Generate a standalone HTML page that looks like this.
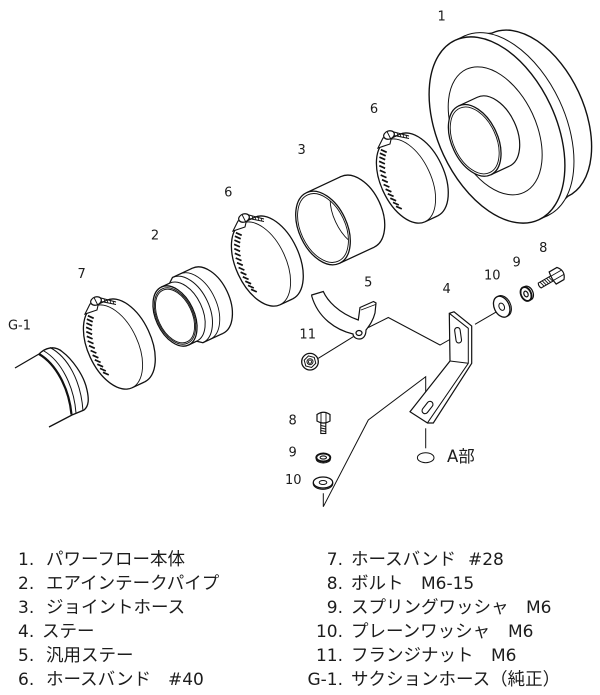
<!DOCTYPE html>
<html><head><meta charset="utf-8"><style>
html,body{margin:0;padding:0;background:#fff;}
svg{display:block}
.l{font-family:"DejaVu Sans","Liberation Sans",sans-serif;font-size:13px;fill:#1c1c1c}
.j{font-family:"Noto Sans CJK JP","Liberation Sans",sans-serif;font-size:17.5px;fill:#1c1c1c}
.n{font-family:"DejaVu Sans","Liberation Sans",sans-serif;font-size:17px;fill:#1c1c1c}
.a{font-family:"DejaVu Sans","Noto Sans CJK JP",sans-serif;font-size:16.5px;fill:#1c1c1c}
</style></head><body>
<svg width="600" height="695" viewBox="0 0 600 695" xmlns="http://www.w3.org/2000/svg">
<defs>
<clipPath id="c3"><ellipse cx="0" cy="0" rx="36.5" ry="22.3"/></clipPath>
</defs>
<rect width="600" height="695" fill="#fff"/>

<!-- PART 1 -->
<g transform="translate(497,130) rotate(65)" stroke="#111" fill="#fff">
 <ellipse cx="0" cy="-36" rx="90" ry="54" stroke-width="1.4"/>
 <path d="M-90,-36 L90,-36 L99,-10 L-99,-10 Z" stroke="none"/>
 <path d="M-90,-36 L-99,-10 M90,-36 L99,-10" fill="none" stroke-width="1.4"/>
 <ellipse cx="0" cy="-10" rx="99" ry="59" stroke-width="1"/>
 <path d="M-99,-10 L-99,0 M99,-10 L99,0" fill="none" stroke-width="1"/>
 <ellipse cx="0" cy="0" rx="99" ry="59" stroke-width="1.4"/>
 <ellipse cx="0" cy="2" rx="68" ry="41" fill="none" stroke-width="1"/>
 <path d="M-38,4 A38,23 0 0 1 38,4 L38,24.6 L-38,24.6 Z" stroke="none"/>
 <path d="M-38,24.6 L-38,4 A38,23 0 0 1 38,4 L38,24.6" fill="none" stroke-width="1.2"/>
 <ellipse cx="0" cy="24.6" rx="38" ry="23" stroke-width="1.3"/>
 <ellipse cx="0" cy="24.6" rx="35.5" ry="21.3" fill="none" stroke-width="0.9"/>
</g>

<!-- CLAMP 6 upper -->
<g transform="translate(406,181)" stroke="#111" fill="none">
 <g transform="rotate(65)">
  <path d="M-45,-14 A45,25 0 0 1 45,-14" stroke-width="1.3"/>
  <path d="M-45,0 L-45,-14 M45,0 L45,-14" stroke-width="1.3"/>
  <path d="M-45,0 A45,25 0 0 1 45,0" stroke-width="0.9"/>
  <path d="M-45,0 A45,25 0 0 0 45,0" stroke-width="1.3"/>
 </g>
 <path stroke-width="1.7" d="M-25.1,-31.3l5.8,2.6M-26.1,-27.8l5.8,2.6M-26.6,-23.9l5.8,2.6M-26.9,-19.7l5.8,2.6M-26.7,-15.3l5.8,2.6M-26.2,-10.7l5.8,2.6M-25.3,-6l5.8,2.6M-24,-1.3l5.8,2.6M-22.4,3.5l5.8,2.6M-20.4,8.2l5.8,2.6M-18.2,12.8l5.8,2.6M-15.7,17.2l5.8,2.6M-13,21.4l5.8,2.6M-10,25.3l5.8,2.6"/>
 <path d="M-12,-49 L3,-45 M-12,-45.5 L3,-42.5" stroke-width="1"/>
 <path d="M-9,-48.3l0.8,3M-6,-47.5l0.8,3M-3,-46.8l0.8,3M0,-46l0.8,3" stroke-width="0.8"/>
 <path d="M-28,-33 L-23,-43 L-14,-46 L-16,-37 Z" fill="#fff" stroke-width="1.1"/>
 <ellipse cx="-17" cy="-46" rx="5.5" ry="4" transform="rotate(-20 -17 -46)" fill="#fff" stroke-width="1.2"/>
 <path d="M-19,-49.5 L-15.5,-42.5" stroke-width="0.9"/>
</g>

<!-- PART 3 -->
<g transform="translate(323,228) rotate(65)" stroke="#111" fill="#fff">
 <ellipse cx="0" cy="-38" rx="39" ry="24" stroke-width="1.3"/>
 <rect x="-39" y="-38" width="78" height="38" stroke="none"/>
 <path d="M-39,-38 L-39,0 M39,-38 L39,0" stroke-width="1.3" fill="none"/>
 <ellipse cx="0" cy="0" rx="39" ry="24" stroke-width="1.3"/>
 <ellipse cx="0" cy="0" rx="36.5" ry="22.3" fill="none" stroke-width="0.9"/>
 <path d="M-39,-38 A39,24 0 0 0 39,-38" fill="none" stroke-width="0.9" clip-path="url(#c3)"/>
</g>

<!-- CLAMP 6 lower -->
<g transform="translate(261,264)" stroke="#111" fill="none">
 <g transform="rotate(65)">
  <path d="M-45,-14 A45,25 0 0 1 45,-14" stroke-width="1.3"/>
  <path d="M-45,0 L-45,-14 M45,0 L45,-14" stroke-width="1.3"/>
  <path d="M-45,0 A45,25 0 0 1 45,0" stroke-width="0.9"/>
  <path d="M-45,0 A45,25 0 0 0 45,0" stroke-width="1.3"/>
 </g>
 <path stroke-width="1.7" d="M-25.1,-31.3l5.8,2.6M-26.1,-27.8l5.8,2.6M-26.6,-23.9l5.8,2.6M-26.9,-19.7l5.8,2.6M-26.7,-15.3l5.8,2.6M-26.2,-10.7l5.8,2.6M-25.3,-6l5.8,2.6M-24,-1.3l5.8,2.6M-22.4,3.5l5.8,2.6M-20.4,8.2l5.8,2.6M-18.2,12.8l5.8,2.6M-15.7,17.2l5.8,2.6M-13,21.4l5.8,2.6M-10,25.3l5.8,2.6"/>
 <path d="M-12,-49 L3,-45 M-12,-45.5 L3,-42.5" stroke-width="1"/>
 <path d="M-9,-48.3l0.8,3M-6,-47.5l0.8,3M-3,-46.8l0.8,3M0,-46l0.8,3" stroke-width="0.8"/>
 <path d="M-28,-33 L-23,-43 L-14,-46 L-16,-37 Z" fill="#fff" stroke-width="1.1"/>
 <ellipse cx="-17" cy="-46" rx="5.5" ry="4" transform="rotate(-20 -17 -46)" fill="#fff" stroke-width="1.2"/>
 <path d="M-19,-49.5 L-15.5,-42.5" stroke-width="0.9"/>
</g>

<!-- PART 2 -->
<g transform="translate(175,316) rotate(65)" stroke="#111" fill="#fff">
 <ellipse cx="0" cy="-36" rx="36" ry="21.6" stroke-width="1.3"/>
 <path d="M-36,-36 L36,-36 L36,-14 L32,-9 L32,0 L-32,0 L-32,-9 L-36,-14 Z" stroke="none"/>
 <path d="M-36,-36 L-36,-14 L-32,-9 L-32,0 M36,-36 L36,-14 L32,-9 L32,0" fill="none" stroke-width="1.3"/>
 <path d="M-36,-22 A36,21.6 0 0 1 36,-22" fill="none" stroke-width="0.9"/>
 <path d="M-36,-14 A36,21.6 0 0 1 36,-14" fill="none" stroke-width="1"/>
 <path d="M-32,-9 A32,19.2 0 0 1 32,-9" fill="none" stroke-width="1"/>
 <ellipse cx="0" cy="0" rx="32" ry="19.2" stroke-width="1.3"/>
 <ellipse cx="0" cy="0" rx="30" ry="18" fill="none" stroke-width="0.9"/>
 <ellipse cx="0" cy="0" rx="28.5" ry="17" fill="none" stroke-width="0.9"/>
</g>

<!-- CLAMP 7 -->
<g transform="translate(113,347)" stroke="#111" fill="none">
 <g transform="rotate(65)">
  <path d="M-45,-14 A45,25 0 0 1 45,-14" stroke-width="1.3"/>
  <path d="M-45,0 L-45,-14 M45,0 L45,-14" stroke-width="1.3"/>
  <path d="M-45,0 A45,25 0 0 1 45,0" stroke-width="0.9"/>
  <path d="M-45,0 A45,25 0 0 0 45,0" stroke-width="1.3"/>
 </g>
 <path stroke-width="1.7" d="M-25.1,-31.3l5.8,2.6M-26.1,-27.8l5.8,2.6M-26.6,-23.9l5.8,2.6M-26.9,-19.7l5.8,2.6M-26.7,-15.3l5.8,2.6M-26.2,-10.7l5.8,2.6M-25.3,-6l5.8,2.6M-24,-1.3l5.8,2.6M-22.4,3.5l5.8,2.6M-20.4,8.2l5.8,2.6M-18.2,12.8l5.8,2.6M-15.7,17.2l5.8,2.6M-13,21.4l5.8,2.6M-10,25.3l5.8,2.6"/>
 <path d="M-12,-49 L3,-45 M-12,-45.5 L3,-42.5" stroke-width="1"/>
 <path d="M-9,-48.3l0.8,3M-6,-47.5l0.8,3M-3,-46.8l0.8,3M0,-46l0.8,3" stroke-width="0.8"/>
 <path d="M-28,-33 L-23,-43 L-14,-46 L-16,-37 Z" fill="#fff" stroke-width="1.1"/>
 <ellipse cx="-17" cy="-46" rx="5.5" ry="4" transform="rotate(-20 -17 -46)" fill="#fff" stroke-width="1.2"/>
 <path d="M-19,-49.5 L-15.5,-42.5" stroke-width="0.9"/>
</g>

<!-- G-1 -->
<g stroke="#111" fill="none">
 <path d="M15,368 L39,354 M49,427 L72,415" stroke-width="1.3"/>
 <path d="M39,354 C45,348 54,345 62,351.5 C72,359 84,375 87,390 C89,399 89,406 84,410 L72,415" stroke-width="1.3"/>
 <path d="M39,354 C56,364 69,388 71.5,414.5" stroke-width="2.2"/>
 <path d="M44,351 C61,361 74,386 76,413" stroke-width="1"/>
 <path d="M50,347.5 C68,357 81,381 83,411" stroke-width="1"/>
</g>

<!-- leaders -->
<g stroke="#111" fill="none" stroke-width="1">
 <path d="M318.3,358.3 L353.3,336.7"/>
 <path d="M368.3,327.5 L388.3,317.5 L440,345 L456,336"/>
 <path d="M475,324.3 L496.7,311.7"/>
 <path d="M323.3,493.3 L323.3,506.7 L368.3,420 L425.7,376.7 L425.7,411.7"/>
 <path d="M425.7,428.3 L425.7,448.3"/>
 <ellipse cx="425.7" cy="457.7" rx="8.3" ry="5"/>
</g>

<!-- PART 5 -->
<g stroke="#111" stroke-width="1.2">
 <path d="M311.7,295 L323.3,291.5 C327,300 338,313 358.3,320 L360,307.5 L373.5,301.5 L376,303 L375,313 C373,321 369,326 366,330 C366,336 363,339 359.5,339 C355.5,339 353,336.5 353,334 C336,330 318,318 311.7,296 Z" fill="#fff"/>
 <path d="M361,310 L375.5,304.5" fill="none" stroke-width="0.8"/>
 <ellipse cx="359" cy="333" rx="3" ry="2.5" fill="#fff"/>
</g>

<!-- NUT 11 -->
<g transform="translate(310,361.7)" stroke="#111" fill="#fff">
 <circle r="8.3" stroke-width="1.3"/>
 <polygon points="6,0 3,5.2 -3,5.2 -6,0 -3,-5.2 3,-5.2" stroke-width="1" transform="rotate(15)"/>
 <circle r="3" stroke-width="1"/>
 <circle r="1.6" stroke-width="0.8" fill="none"/>
</g>

<!-- BRACKET 4 -->
<g stroke="#111" stroke-width="1.2">
 <path d="M449.3,313.3 L454,311.8 L471.7,326 L471.7,363.3 L433.3,423 L427.5,423 L410,411.7 L450,361 Z" fill="#fff"/>
 <path d="M449.3,313.3 L468.3,328.3 L468.3,363.3 L427.5,422.8 M450,361 L468.3,363.3" fill="none" stroke-width="1"/>
 <rect x="455.3" y="327.5" width="5.5" height="15.5" rx="2.75" transform="rotate(-8 458 335)" fill="#fff" stroke-width="1.1"/>
 <rect x="-7" y="-3" width="14" height="6" rx="3" transform="translate(427.5,407.5) rotate(-52)" fill="#fff" stroke-width="1.1"/>
</g>

<!-- right hardware -->
<g transform="translate(501.7,306.7) rotate(65)" stroke="#111" fill="#fff">
 <ellipse cx="0" cy="-1.6" rx="11" ry="7.5" stroke-width="1.1"/>
 <ellipse cx="0" cy="0" rx="11" ry="7.5" stroke-width="1.3"/>
 <ellipse cx="0" cy="0" rx="3.8" ry="2.6" stroke-width="1"/>
</g>
<g transform="translate(526,294) rotate(65)" stroke="#111" fill="#fff">
 <ellipse cx="0" cy="-2.2" rx="7.3" ry="5" stroke-width="1.2"/>
 <ellipse cx="0" cy="0" rx="7.3" ry="5" stroke-width="1.8"/>
 <ellipse cx="0" cy="0" rx="3" ry="2" stroke-width="1.2"/>
</g>
<g transform="translate(557,275.5) rotate(-30)" stroke="#111" fill="#fff">
 <path d="M-20,-2.8 L-5,-2.8 L-5,2.8 L-20,2.8 Q-21.5,0 -20,-2.8 Z" stroke-width="1.1"/>
 <path d="M-18,-2.8l1.5,5.6M-15.5,-2.8l1.5,5.6M-13,-2.8l1.5,5.6M-10.5,-2.8l1.5,5.6M-8,-2.8l1.5,5.6" stroke-width="0.9" fill="none"/>
 <path d="M-5,-7 L4,-7 Q7,-3.5 7,0 Q7,3.5 4,7 L-5,7 Q-6.5,0 -5,-7 Z" stroke-width="1.2"/>
 <path d="M-5.5,-2.5 L6.5,-2.5 M-5.5,2.5 L6.5,2.5" stroke-width="0.9" fill="none"/>
</g>

<!-- lower hardware -->
<g stroke="#111" fill="#fff">
 <rect x="320.8" y="423" width="5" height="10.5" stroke-width="1.1"/>
 <path d="M320.8,425.5l5,1M320.8,428l5,1M320.8,430.5l5,1" stroke-width="0.9" fill="none"/>
 <path d="M317,414.5 Q323.5,410 330,414.5 L330,421 Q323.5,425 317,421 Z" stroke-width="1.2"/>
 <path d="M321,412.3 L321,423.2 M326,412.3 L326,423.2" stroke-width="0.9" fill="none"/>
 <ellipse cx="323.3" cy="459" rx="7" ry="4" stroke-width="1.1"/>
 <ellipse cx="323.3" cy="457.5" rx="7" ry="4" stroke-width="1.9"/>
 <ellipse cx="323.3" cy="457.5" rx="3.2" ry="1.6" stroke-width="1.1"/>
 <ellipse cx="323" cy="483.8" rx="9.7" ry="5.5" stroke-width="1.1"/>
 <ellipse cx="323" cy="482.5" rx="9.7" ry="5.5" stroke-width="1.3"/>
 <ellipse cx="323" cy="482.5" rx="3.8" ry="2" stroke-width="1"/>
</g>

<!-- diagram labels -->
<g class="l" text-anchor="middle">
 <text x="441.7" y="20.7">1</text>
 <text x="374" y="113">6</text>
 <text x="301.7" y="154">3</text>
 <text x="228.3" y="196.4">6</text>
 <text x="155" y="239.7">2</text>
 <text x="81.7" y="278">7</text>
 <text x="19.5" y="329.7">G-1</text>
 <text x="368.3" y="286.4">5</text>
 <text x="446.7" y="293">4</text>
 <text x="492.3" y="279.7">10</text>
 <text x="516.7" y="266.4">9</text>
 <text x="543.3" y="252">8</text>
 <text x="307.7" y="338.7">11</text>
 <text x="292.7" y="424.7">8</text>
 <text x="292.7" y="456.4">9</text>
 <text x="293.3" y="484">10</text>
</g>
<text class="a" x="447" y="462">A部</text>

<!-- legend -->
<g class="n">
 <text x="18" y="565">1.</text>
 <text x="18" y="589">2.</text>
 <text x="18" y="613">3.</text>
 <text x="18" y="637">4.</text>
 <text x="18" y="661">5.</text>
 <text x="18" y="685">6.</text>
 <text x="168" y="685">#40</text>
 <text x="343" y="565" text-anchor="end">7.</text>
 <text x="343" y="589" text-anchor="end">8.</text>
 <text x="343" y="613" text-anchor="end">9.</text>
 <text x="343" y="637" text-anchor="end">10.</text>
 <text x="343" y="661" text-anchor="end">11.</text>
 <text x="343" y="685" text-anchor="end">G-1.</text>
 <text x="468" y="565">#28</text>
 <text x="421" y="589">M6-15</text>
 <text x="526" y="613">M6</text>
 <text x="508" y="637">M6</text>
 <text x="491" y="661">M6</text>
</g>
<g class="j">
 <text x="46" y="565">パワーフロー本体</text>
 <text x="46" y="589">エアインテークパイプ</text>
 <text x="46" y="613">ジョイントホース</text>
 <text x="42" y="637">ステー</text>
 <text x="46" y="661">汎用ステー</text>
 <text x="46" y="685">ホースバンド</text>
 <text x="351" y="565">ホースバンド</text>
 <text x="351" y="589">ボルト</text>
 <text x="351" y="613">スプリングワッシャ</text>
 <text x="351" y="637">プレーンワッシャ</text>
 <text x="351" y="661">フランジナット</text>
 <text x="351" y="685">サクションホース（純正）</text>
</g>
</svg>
</body></html>
